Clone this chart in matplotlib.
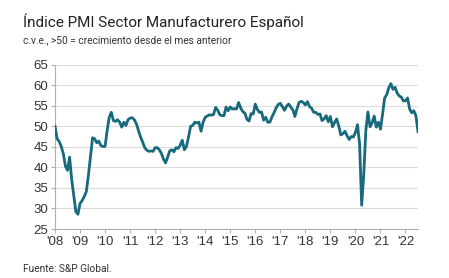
import numpy as np
import matplotlib
matplotlib.use("Agg")
import matplotlib.pyplot as plt

# monthly PMI, Jan 2008 - Jul 2022
pmi_2008 = [50.0, 47.0, 46.3, 45.1, 43.3, 40.3, 39.3, 42.5, 37.0, 33.0, 29.2, 28.6]
pmi_2009 = [31.2, 31.9, 32.9, 34.1, 38.0, 42.5, 47.2, 47.0, 46.0, 46.4, 45.3, 45.1]
pmi_2010 = [45.1, 49.0, 52.2, 53.4, 51.4, 51.2, 51.6, 51.0, 49.8, 51.0, 50.2, 51.6]
pmi_2011 = [52.0, 52.1, 51.6, 50.6, 49.0, 47.4, 46.2, 44.8, 44.2, 43.9, 44.0, 43.9]
pmi_2012 = [44.8, 44.8, 44.3, 43.4, 42.0, 41.1, 42.5, 44.0, 44.3, 43.8, 44.8, 44.6]
pmi_2013 = [45.4, 46.6, 44.3, 45.1, 47.4, 50.0, 50.2, 51.0, 50.8, 51.0, 48.8, 51.0]
pmi_2014 = [52.2, 52.5, 52.8, 52.7, 52.9, 54.6, 53.9, 52.8, 52.6, 52.6, 54.7, 53.8]
pmi_2015 = [54.7, 54.2, 54.3, 54.2, 55.8, 54.5, 53.6, 53.2, 51.7, 51.3, 53.1, 53.0]
pmi_2016 = [55.4, 54.1, 53.4, 53.5, 51.5, 52.2, 51.0, 51.0, 52.3, 53.3, 54.5, 55.3]
pmi_2017 = [55.6, 54.8, 53.9, 54.9, 55.4, 54.7, 54.0, 52.4, 54.3, 55.8, 56.1, 55.8]
pmi_2018 = [55.2, 56.0, 54.8, 54.4, 53.4, 53.4, 52.9, 53.0, 51.4, 51.8, 52.6, 51.1]
pmi_2019 = [52.4, 49.9, 50.9, 51.8, 50.1, 47.9, 48.2, 48.8, 47.7, 46.8, 47.5, 47.4]
pmi_2020 = [48.5, 50.4, 45.7, 30.8, 38.3, 49.0, 53.5, 49.9, 50.8, 52.5, 49.8, 51.0]
pmi_2021 = [49.3, 52.9, 56.9, 57.7, 59.4, 60.4, 59.0, 59.5, 58.1, 57.4, 57.1, 56.2]
pmi_2022 = [56.2, 56.9, 54.2, 53.3, 53.8, 52.6, 48.7]

year_labels = ["'08", "'09", "'10", "'11", "'12", "'13", "'14", "'15",
               "'16", "'17", "'18", "'19", "'20", "'21", "'22"]
y_ticks = [25, 30, 35, 40, 45, 50, 55, 60, 65]

title = "Índice PMI Sector Manufacturero Español"
subtitle = "c.v.e., >50 = crecimiento desde el mes anterior"
source = "Fuente: S&P Global."

pmi = (pmi_2008 + pmi_2009 + pmi_2010 + pmi_2011 + pmi_2012 + pmi_2013 + pmi_2014
       + pmi_2015 + pmi_2016 + pmi_2017 + pmi_2018 + pmi_2019 + pmi_2020
       + pmi_2021 + pmi_2022)
months = np.arange(len(pmi))

line_col = "#17697c"
axis_col = "#b0b0b0"

fig = plt.figure(figsize=(4.49, 2.78), dpi=100)
ax = fig.add_axes([55 / 449, 49 / 278, 363 / 449, 164.3 / 278])

ax.plot(months, pmi, color=line_col, lw=2.0, solid_joinstyle="round", zorder=3)

ax.set_xlim(0, len(pmi) - 1)
ax.set_ylim(25, 65)
ax.set_yticks(y_ticks)
ax.set_xticks(np.arange(len(year_labels)) * 12)
ax.set_xticklabels(year_labels)
ax.grid(axis="y", color="#dcdcdc", lw=0.8)
ax.set_axisbelow(True)

for s in ["top", "right"]:
    ax.spines[s].set_visible(False)
for s in ["left", "bottom"]:
    ax.spines[s].set_color(axis_col)
    ax.spines[s].set_linewidth(0.8)
ax.tick_params(axis="both", colors=axis_col, length=3, width=0.8, pad=2,
               labelcolor="#333333")
for lab in ax.get_xticklabels() + ax.get_yticklabels():
    lab.set_fontfamily("Liberation Sans")
    lab.set_fontsize(9.5)

fig.text(23 / 449, 0.921, title, family="Roboto", fontsize=11, color="#222222",
         va="center", ha="left")
fig.text(23 / 449, 0.856, subtitle, family="Roboto", fontsize=7.3, color="#333333",
         va="center", ha="left")
fig.text(23 / 449, 0.032, source, family="Roboto", fontsize=7.3, color="#333333",
         va="center", ha="left")

fig.savefig("out.png", dpi=100, facecolor="white")
